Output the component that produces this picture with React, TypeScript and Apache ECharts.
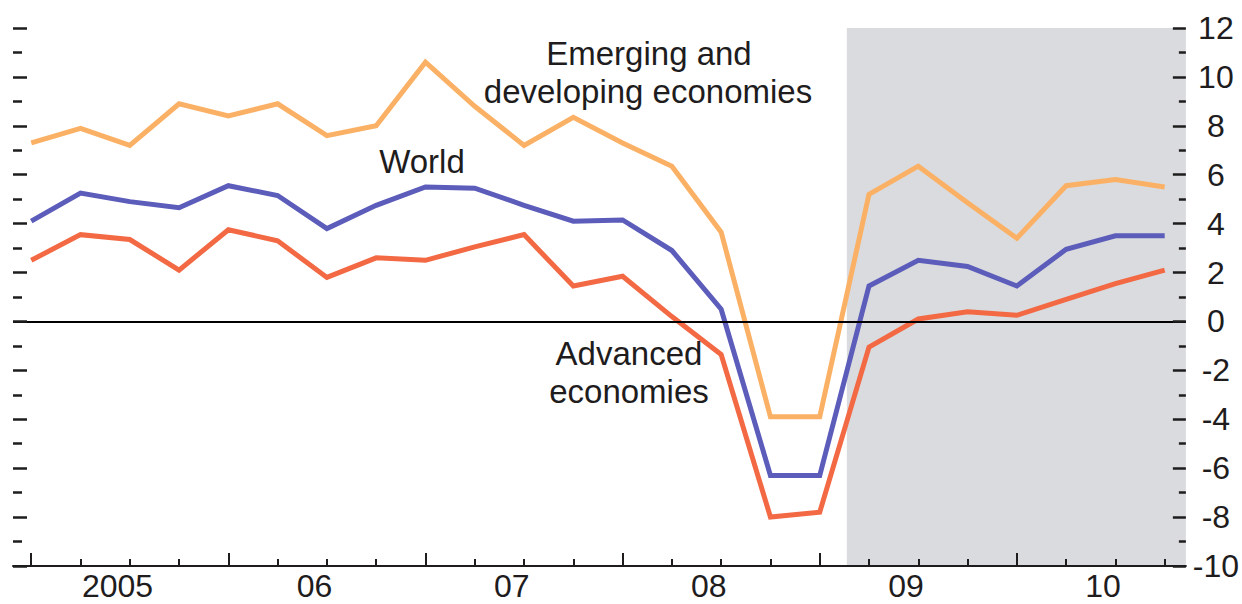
import React, { useEffect, useRef } from "react";
import * as echarts from "echarts";

// Quarterly real GDP growth, 2005Q1 – 2010Q4 (percent, annualized)
const quarters = [
  "2005Q1", "2005Q2", "2005Q3", "2005Q4",
  "2006Q1", "2006Q2", "2006Q3", "2006Q4",
  "2007Q1", "2007Q2", "2007Q3", "2007Q4",
  "2008Q1", "2008Q2", "2008Q3", "2008Q4",
  "2009Q1", "2009Q2", "2009Q3", "2009Q4",
  "2010Q1", "2010Q2", "2010Q3", "2010Q4",
];

const emerging = [
  7.3, 7.9, 7.2, 8.9, 8.4, 8.9, 7.6, 8.0,
  10.6, 8.8, 7.2, 8.35, 7.3, 6.35, 3.65, -3.9,
  -3.9, 5.2, 6.35, 4.85, 3.4, 5.55, 5.8, 5.5,
];

const world = [
  4.1, 5.25, 4.9, 4.65, 5.55, 5.15, 3.8, 4.75,
  5.5, 5.45, 4.75, 4.1, 4.15, 2.9, 0.5, -6.3,
  -6.3, 1.45, 2.5, 2.25, 1.45, 2.95, 3.5, 3.5,
];

const advanced = [
  2.5, 3.55, 3.35, 2.1, 3.75, 3.3, 1.8, 2.6,
  2.5, 3.05, 3.55, 1.45, 1.85, 0.2, -1.35, -8.0,
  -7.8, -1.05, 0.1, 0.4, 0.25, 0.9, 1.55, 2.1,
];

const yearLabels = ["2005", "06", "07", "08", "09", "10"];

// x runs in quarter index units (0 = 2005Q1)
const X_MIN = -0.37;
const X_MAX = 23.43;
const Y_MIN = -10;
const Y_MAX = 12;
const PROJECTION_START = 16.55;

const FONT = "'Liberation Sans', Arial, Helvetica, sans-serif";
const INK = "#1e1c1d";

const toPairs = (vals: number[]) => vals.map((v, i) => [i, v]);

export default function App() {
  const ref = useRef<HTMLDivElement>(null);

  useEffect(() => {
    if (!ref.current) return;
    const chart = echarts.init(ref.current, undefined, { renderer: "svg" });

    const quarterTicks = quarters.map((_, i) => i).filter((i) => i % 4 !== 0);
    const yearTicks = quarters.map((_, i) => i).filter((i) => i % 4 === 0);
    const yearLabelPos = yearLabels.map((_, k) => 1.75 + 4 * k);

    const lineSeries = (name: string, vals: number[], color: string) => ({
      name,
      type: "line",
      data: toPairs(vals),
      symbol: "none",
      z: 3,
      lineStyle: { color, width: 5, join: "miter" },
    });

    // y axis with long ticks at even values and short minor ticks at odd ones,
    // pinned to the grid edge (not to x = 0)
    const yAxisSide = (
      position: string,
      majorLength: number,
      minorLength: number,
      withLabels: boolean
    ) => ({
      type: "value",
      position,
      min: Y_MIN,
      max: Y_MAX,
      interval: 2,
      z: 10,
      axisLine: { show: false, onZero: false },
      axisTick: { show: true, inside: true, length: majorLength, lineStyle: { color: INK, width: 2.5 } },
      minorTick: {
        show: true,
        splitNumber: 2,
        length: minorLength,
        lineStyle: { color: INK, width: 2.5 },
      },
      axisLabel: withLabels
        ? { show: true, fontSize: 32, fontFamily: FONT, color: INK, align: "center", margin: 30 }
        : { show: false },
      splitLine: { show: false },
      minorSplitLine: { show: false },
    });

    chart.setOption({
      animation: false,
      backgroundColor: "#ffffff",
      grid: { left: 13, right: 56, top: 28, bottom: 38, containLabel: false },
      xAxis: [
        {
          type: "value",
          min: X_MIN,
          max: X_MAX,
          position: "bottom",
          z: 10,
          axisLine: { show: true, onZero: false, lineStyle: { color: INK, width: 2 } },
          axisTick: {
            show: true,
            inside: true,
            length: 7,
            customValues: quarterTicks,
            lineStyle: { color: INK, width: 2 },
          },
          axisLabel: {
            show: true,
            customValues: yearLabelPos,
            formatter: (v: number) => yearLabels[Math.round((v - 1.75) / 4)] ?? "",
            fontSize: 32,
            fontFamily: FONT,
            color: INK,
            margin: 4,
          },
          splitLine: { show: false },
        },
        {
          type: "value",
          min: X_MIN,
          max: X_MAX,
          position: "bottom",
          z: 10,
          axisLine: { show: false, onZero: false },
          axisTick: {
            show: true,
            inside: true,
            length: 13,
            customValues: yearTicks,
            lineStyle: { color: INK, width: 2 },
          },
          axisLabel: { show: false },
          splitLine: { show: false },
        },
      ],
      yAxis: [yAxisSide("right", 13, 7, true), yAxisSide("left", 14, 9, false)],
      series: [
        {
          name: "projection",
          type: "line",
          data: [],
          z: 1,
          silent: true,
          markArea: {
            silent: true,
            itemStyle: { color: "#dadbde" },
            data: [[{ xAxis: PROJECTION_START }, { xAxis: X_MAX }]],
          },
        },
        {
          name: "zero",
          type: "line",
          data: [],
          z: 2,
          silent: true,
          markLine: {
            silent: true,
            symbol: ["none", "none"],
            label: { show: false },
            lineStyle: { color: "#000000", width: 2, type: "solid" },
            data: [{ yAxis: 0 }],
          },
        },
        lineSeries("Emerging and developing economies", emerging, "#fbb165"),
        lineSeries("World", world, "#5c5cbb"),
        lineSeries("Advanced economies", advanced, "#f26944"),
      ],
      graphic: [
        { text: "Emerging and", x: 649, y: 53 },
        { text: "developing economies", x: 648, y: 91 },
        { text: "World", x: 422, y: 161 },
        { text: "Advanced", x: 629, y: 353 },
        { text: "economies", x: 629, y: 391 },
      ].map((t) => ({
        type: "text",
        x: t.x,
        y: t.y,
        z: 20,
        silent: true,
        style: {
          text: t.text,
          fontSize: 33,
          fontFamily: FONT,
          fill: INK,
          textAlign: "center",
          textVerticalAlign: "middle",
        },
      })),
    });

    return () => chart.dispose();
  }, []);

  return (
    <div
      ref={ref}
      style={{
        position: "absolute",
        left: 0,
        top: 0,
        width: 1242,
        height: 604,
        background: "#ffffff",
      }}
    />
  );
}
